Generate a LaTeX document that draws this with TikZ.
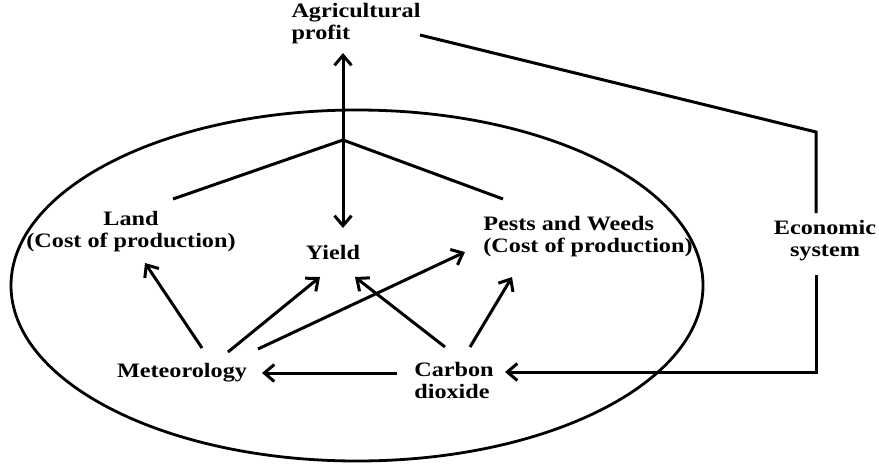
\documentclass[tikz,border=0pt]{standalone}
\usepackage{fontspec}
\setmainfont{Liberation Serif}[FakeStretch=1.18]
\usetikzlibrary{arrows.meta,calc}
\tikzset{
  lbl/.style={inner sep=0pt, font=\fontsize{20.5}{22}\selectfont\bfseries},
  conn/.style={line width=3pt},
  tip/.tip={Straight Barb[length=10pt,width=17pt,line width=3pt]},
  arr/.style={line width=3pt, -tip},
  darr/.style={line width=3pt, tip-tip},
  oval/.style={line width=2.8pt}
}
\begin{document}
\begin{tikzpicture}[x=1pt,y=-1pt]
\useasboundingbox (0,0) rectangle (879,466);
% ellipse
\draw[oval] (357,285.5) ellipse [x radius=346pt, y radius=175.5pt];
% nodes
\node[lbl, align=left]   (agri)  at (356,24)  {Agricultural\\profit};
\node[lbl, align=center] (land)  at (131,232) {Land\\(Cost of production)};
\node[lbl]               (yield) at (333,252) {Yield};
\node[lbl, align=left]   (pests) at (588,237) {Pests and Weeds\\(Cost of production)};
\node[lbl]               (met)   at (182,373) {Meteorology};
\node[lbl, align=left]   (co2)   at (454,380) {Carbon\\dioxide};
\node[lbl, align=center] (econ)  at (825,241) {Economic\\system};
\coordinate (branch) at (343,140);
% connectors
\draw[darr] ($(agri)+(-13,29)$) -- ($(yield)+(10,-24)$);
\draw[conn] ($(land)+(42,-33)$) -- (branch) -- ($(pests)+(-85,-38)$);
\draw[arr] ($(met)+(20,-25)$) -- ($(land)+(14,31)$);
\draw[arr] ($(met)+(46,-21)$) -- ($(yield)+(-13,25)$);
\draw[arr] ($(met)+(76,-24)$) -- ($(pests)+(-123,15)$);
\draw[arr] ($(co2)+(-9,-33)$) -- ($(yield)+(22,25)$);
\draw[arr] ($(co2)+(16,-33)$) -- ($(pests)+(-76,40)$);
\draw[arr] ($(co2)+(-57,-7)$) -- ($(met)+(80,0)$);
\draw[conn, line join=miter] ($(agri)+(64,11)$) -- ($(econ)+(-9,-109)$) -- ($(econ)+(-9,-28)$);
\draw[arr, line join=miter] ($(econ)+(-9,34)$) -- ($(econ)+(-9,131)$) -- ($(co2)+(51,-8)$);
\end{tikzpicture}
\end{document}
